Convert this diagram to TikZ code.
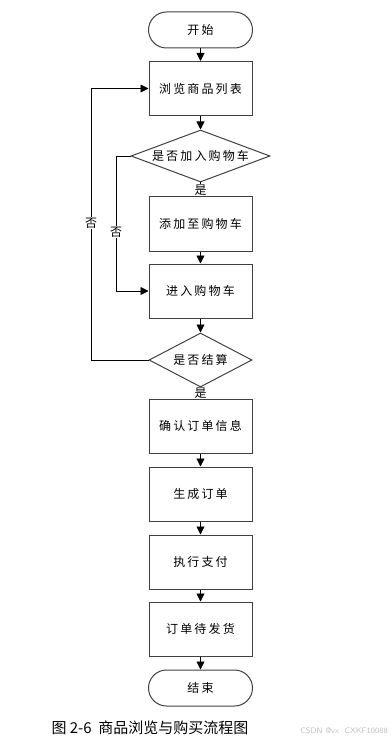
\documentclass[tikz,border=0pt]{standalone}
\usepackage{fontspec}
\newfontfamily\cjk[LetterSpace=18]{Noto Sans CJK SC}
\newfontfamily\cjkplain{Noto Sans CJK SC}
\usetikzlibrary{shapes.geometric, arrows.meta}

\tikzset{
	flowbox/.style={draw=black!75, line width=1pt, minimum width=103pt, minimum height=54pt, inner sep=0pt, font=\cjk\fontsize{12}{14}\selectfont},
	term/.style={flowbox, rounded corners=18pt, minimum width=104pt, minimum height=36pt},
	decision/.style={flowbox, diamond},
	flow/.style={line width=0.9pt, -{Triangle[width=8pt,length=8pt]}},
	plainline/.style={line width=0.9pt},
	lab/.style={fill=white, inner sep=1pt, font=\cjkplain\fontsize{12}{14}\selectfont}
}

\begin{document}
\begin{tikzpicture}[x=1pt, y=-1pt]
		
		% Fix the page to the reference size
		\useasboundingbox (0,0) rectangle (391,743);
		
		% Main column of steps
		\node[term] (start) at (200.5,30) {开始};
		\node[flowbox] (browse) at (200.5,88.5) {浏览商品列表};
		\node[decision, minimum width=139pt, minimum height=52pt] (ask1) at (200.5,156) {\makebox[0pt]{是否加入购物车}};
		\node[flowbox] (add) at (200.5,224) {添加至购物车};
		\node[flowbox] (cart) at (200.5,291) {进入购物车};
		\node[decision, minimum width=103pt, minimum height=54pt] (ask2) at (200.5,360) {\makebox[0pt]{是否结算}};
		\node[flowbox] (confirm) at (200.5,426) {确认订单信息};
		\node[flowbox] (make) at (200.5,494) {生成订单};
		\node[flowbox] (pay) at (200.5,562) {执行支付};
		\node[flowbox] (ship) at (200.5,629) {订单待发货};
		\node[term] (finish) at (200.5,688) {结束};
		
		% Straight arrows down the column
		\draw[flow] (start) -- (browse);
		\draw[flow] (browse) -- (ask1);
		\draw[plainline] (ask1.south) -- (add.north);
		\draw[flow] (add) -- (cart);
		\draw[flow] (cart) -- (ask2);
		\draw[plainline] (ask2.south) -- (confirm.north);
		\draw[flow] (confirm) -- (make);
		\draw[flow] (make) -- (pay);
		\draw[flow] (pay) -- (ship);
		\draw[flow] (ship) -- (finish);
		
		% "Yes" labels under the decisions
		\node[lab] (yes1) at (200.5,190) {是};
		\node[lab] (yes2) at (200.5,393) {是};
		
		% Inner loop: not added, go to cart
		\coordinate (inner) at (116,156);
		\draw[flow] (ask1.west) -- (inner) |- (cart.west);
		\node[lab] (no1) at (116,232) {否};
		
		% Outer loop: not checking out, back to list
		\coordinate (outer) at (91,360);
		\draw[flow] (ask2.west) -- (outer) |- (browse.west);
		\node[lab] (no2) at (91,223) {否};
		
		% Caption and watermark
		\node[font=\cjkplain\fontsize{15}{17}\selectfont, inner sep=0pt] (caption) at (150,728) {图 2-6\ \ 商品浏览与购买流程图};
		\node[font=\sffamily\fontsize{8}{9}\selectfont, text=black!25, anchor=east, inner sep=0pt] (mark) at (388,731) {CSDN @vx\ \ CXKF10088};
		
	\end{tikzpicture}
\end{document}
